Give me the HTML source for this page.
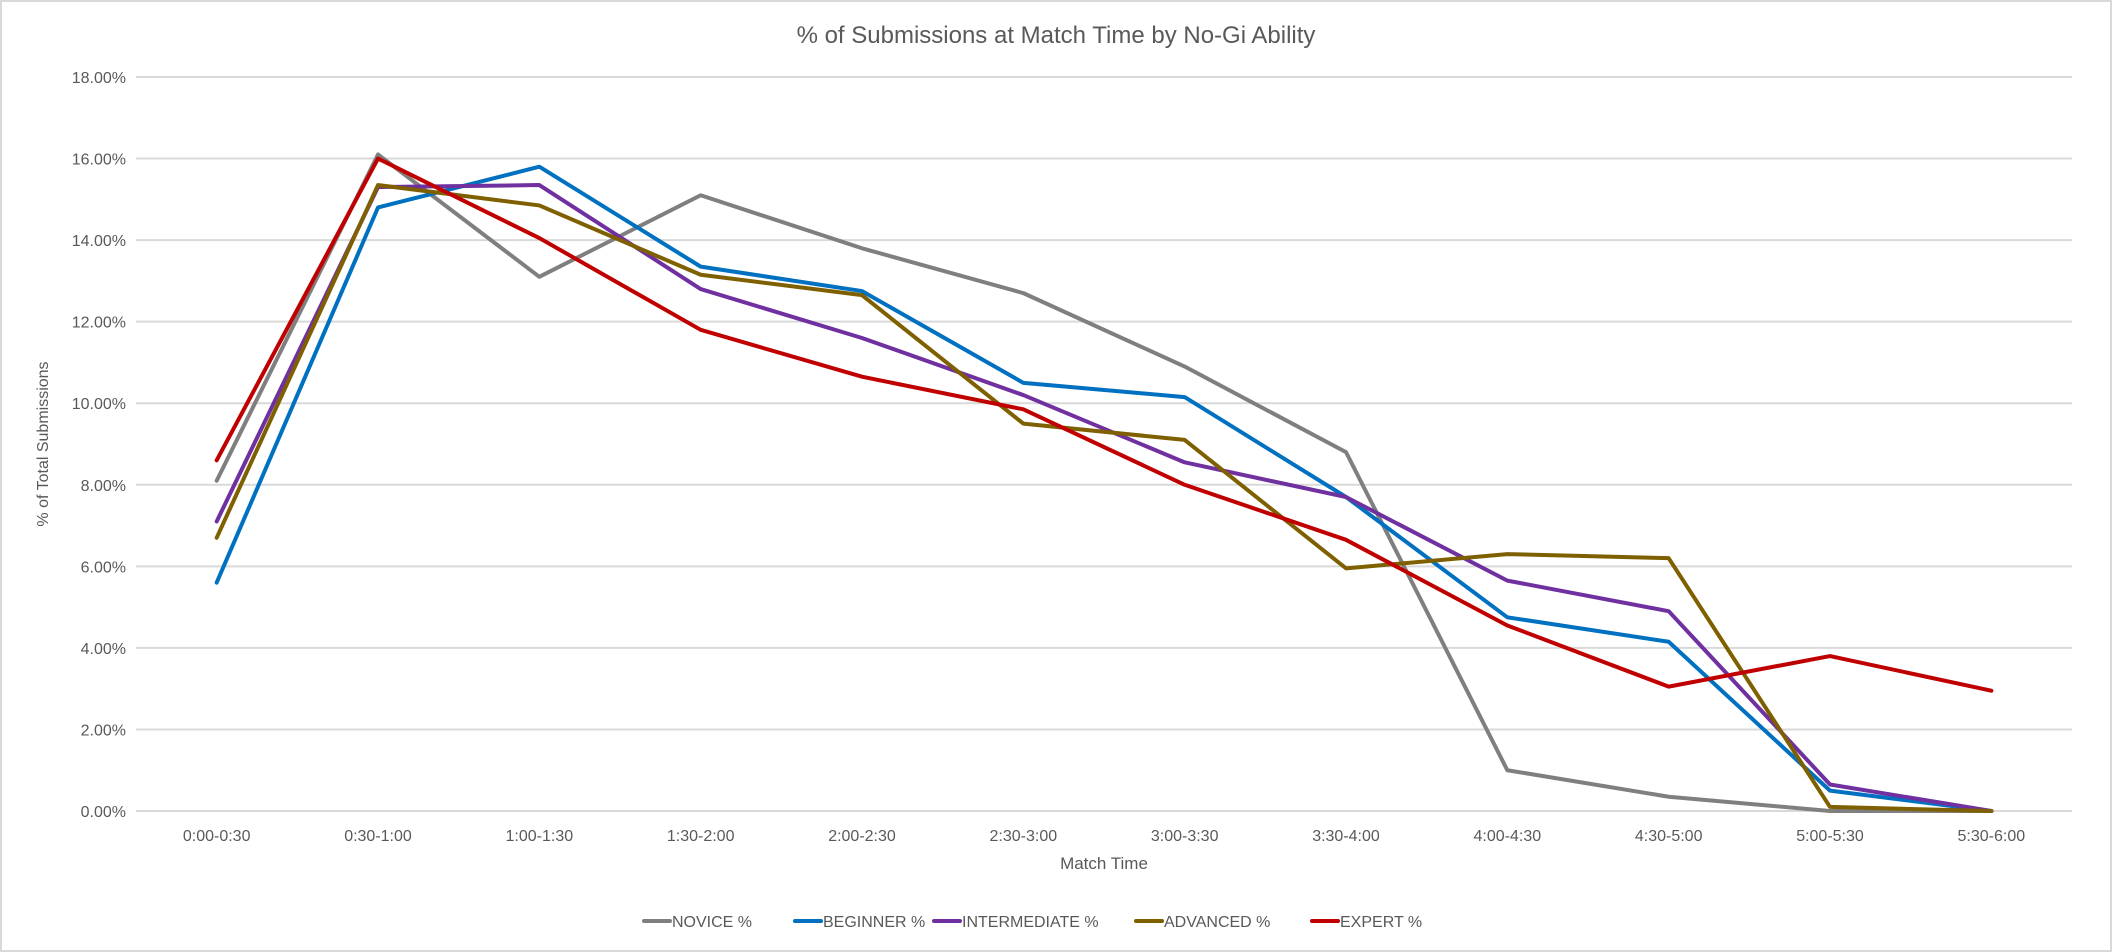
<!DOCTYPE html>
<html><head><meta charset="utf-8"><style>
html,body{margin:0;padding:0;background:#fff;}
svg{display:block;font-family:"Liberation Sans",sans-serif;}
</style></head><body>
<svg id="chart" width="2112" height="952" viewBox="0 0 2112 952">
<rect x="1" y="1" width="2110" height="950" fill="#fff" stroke="#d9d9d9" stroke-width="2"/>
<text x="1056" y="43" text-anchor="middle" font-size="24" fill="#595959">% of Submissions at Match Time by No-Gi Ability</text>
<text transform="translate(48,444) rotate(-90)" text-anchor="middle" font-size="16" fill="#595959">% of Total Submissions</text>
<text x="1104" y="869" text-anchor="middle" font-size="17" fill="#595959">Match Time</text>
<g id="grid"></g><g id="xt"></g><g id="lines"></g><g id="legend"></g>
</svg>
<script>
const categories=["0:00-0:30","0:30-1:00","1:00-1:30","1:30-2:00","2:00-2:30","2:30-3:00","3:00-3:30","3:30-4:00","4:00-4:30","4:30-5:00","5:00-5:30","5:30-6:00"];
const yTicks=[0,2,4,6,8,10,12,14,16,18];
const seriesNames=["NOVICE %","BEGINNER %","INTERMEDIATE %","ADVANCED %","EXPERT %"];
const seriesColors=["#7f7f7f","#0070c0","#7030a0","#7f6000","#c00000"];
const novice=[8.1,16.1,13.1,15.1,13.8,12.7,10.9,8.8,1.0,0.35,0.0,0.0];
const beginner=[5.6,14.8,15.8,13.35,12.75,10.5,10.15,7.7,4.75,4.15,0.5,0.0];
const intermediate=[7.1,15.3,15.35,12.8,11.6,10.2,8.55,7.7,5.65,4.9,0.65,0.0];
const advanced=[6.7,15.35,14.85,13.15,12.65,9.5,9.1,5.95,6.3,6.2,0.1,0.0];
const expert=[8.6,16.0,14.05,11.8,10.65,9.85,8.0,6.65,4.55,3.05,3.8,2.95];
const allSeries=[novice,beginner,intermediate,advanced,expert];
const NS="http://www.w3.org/2000/svg";
const L=136,R=2072,T=77,B=811;
const step=(R-L)/categories.length;
const x=i=>L+step*(i+0.5);
const y=v=>B-(v/18)*(B-T);
function mk(tag,attrs,parent){const e=document.createElementNS(NS,tag);for(const k in attrs)e.setAttribute(k,attrs[k]);parent.appendChild(e);return e;}
const grid=document.getElementById('grid');
yTicks.forEach(t=>{
  const ln=mk('line',{x1:L,x2:R,y1:y(t),y2:y(t),stroke:'#d9d9d9','stroke-width':2},grid);
  
  
  const tx=mk('text',{x:L-10,y:y(t)+6,'text-anchor':'end','font-size':16,fill:'#595959'},grid);
  tx.textContent=t.toFixed(2)+'%';
  
  
});
const xt=document.getElementById('xt');
categories.forEach((c,i)=>{
  const tx=mk('text',{x:x(i),y:841,'text-anchor':'middle','font-size':16,fill:'#595959'},xt);
  tx.textContent=c;
  
  
});
const lines=document.getElementById('lines');
allSeries.forEach((s,k)=>{
  const p=mk('polyline',{points:s.map((v,i)=>x(i)+','+y(v)).join(' '),fill:'none',stroke:seriesColors[k],'stroke-width':4,'stroke-linejoin':'round','stroke-linecap':'round'},lines);
  
  
});
const legend=document.getElementById('legend');
const lx=[644,795,934,1136,1312];
seriesNames.forEach((n,k)=>{
  const g=mk('g',{},legend);
  
  
  mk('line',{x1:lx[k],x2:lx[k]+26,y1:921,y2:921,stroke:seriesColors[k],'stroke-width':4,'stroke-linecap':'round'},g);
  const t=mk('text',{x:lx[k]+28,y:927,'font-size':16,fill:'#595959'},g);
  t.textContent=n;
});
</script>
</body></html>
